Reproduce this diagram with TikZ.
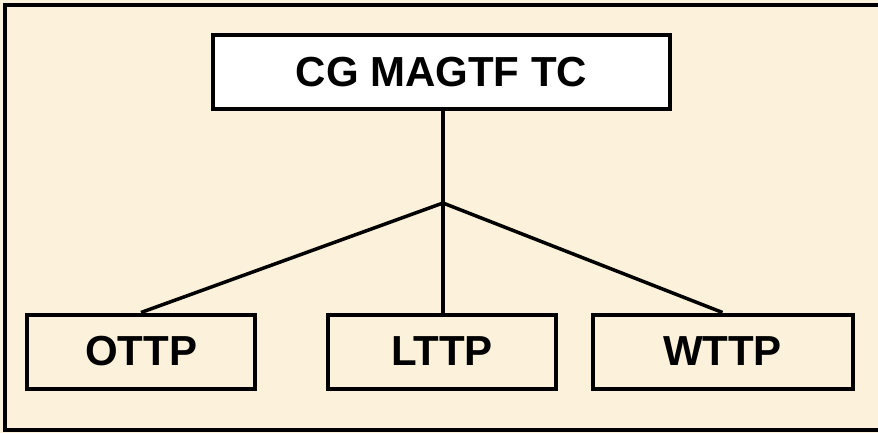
\documentclass[tikz,border=0pt]{standalone}
\usepackage{fontspec}
\setmainfont{Liberation Sans}
\usepackage{xcolor}
\definecolor{parchment}{RGB}{252,242,219}
\tikzset{
    head-box/.style = {draw=black, fill=white, line width=4pt, rectangle, inner sep=0pt, minimum width=457pt, minimum height=73.5pt, font=\fontsize{42}{48}\selectfont\bfseries},
    unit-box/.style = {draw=black, line width=4pt, rectangle, inner sep=0pt, minimum width=228pt, minimum height=74pt, font=\fontsize{42}{48}\selectfont\bfseries},
    link/.style = {draw=black, line width=3.5pt},
}
\begin{document}
\begin{tikzpicture}[x=1pt, y=-1pt]
\useasboundingbox (0,0) rectangle (878,433);
\fill[parchment] (0,0) rectangle (878,433);
\draw[line width=4pt] (890,5) -- (5,5) -- (5,430) -- (890,430);
% top of the tree
\node[head-box] (cg) at (441.5,72) {CG MAGTF TC};
\coordinate (fork) at (443,203);
% the three subordinate units
\node[unit-box] (ottp) at (141,351.5) {OTTP};
\node[unit-box] (lttp) at (442,351.5) {LTTP};
\node[unit-box, minimum width=260pt] (wttp) at (722.5,351.5) {WTTP};
\draw[link] (cg.south -| fork) -- (fork);
\draw[link] (fork) -- (ottp.north);
\draw[link] (fork) -- (lttp.north -| fork);
\draw[link] (fork) -- (wttp.north);
\end{tikzpicture}
\end{document}
